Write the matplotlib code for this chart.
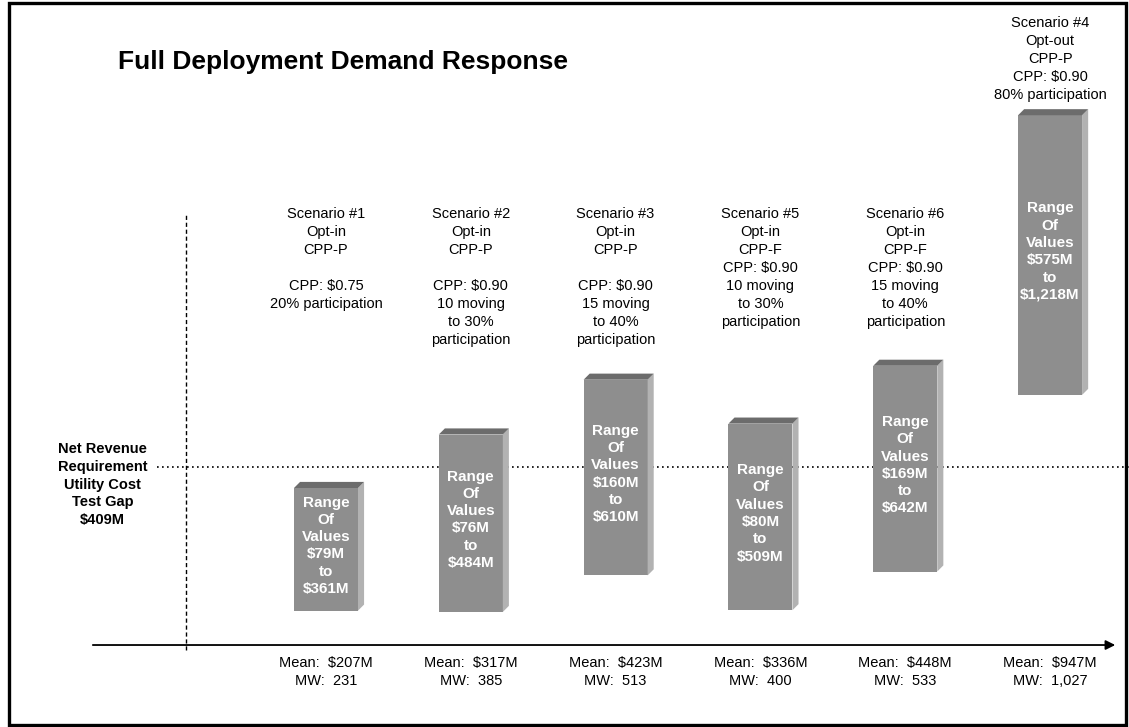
import matplotlib.pyplot as plt
from matplotlib.patches import Polygon, Rectangle

plt.rcParams['font.family'] = ['Liberation Sans', 'DejaVu Sans']

# Scenario data (in display order)
scenario_names = ['Scenario #1', 'Scenario #2', 'Scenario #3', 'Scenario #5', 'Scenario #6', 'Scenario #4']
scenario_desc = [
    'Opt-in\nCPP-P\n\nCPP: $0.75\n20% participation',
    'Opt-in\nCPP-P\n\nCPP: $0.90\n10 moving\nto 30%\nparticipation',
    'Opt-in\nCPP-P\n\nCPP: $0.90\n15 moving\nto 40%\nparticipation',
    'Opt-in\nCPP-F\nCPP: $0.90\n10 moving\nto 30%\nparticipation',
    'Opt-in\nCPP-F\nCPP: $0.90\n15 moving\nto 40%\nparticipation',
    'Opt-out\nCPP-P\nCPP: $0.90\n80% participation',
]
range_low = [79, 76, 160, 80, 169, 575]
range_high = [361, 484, 610, 509, 642, 1218]
mean_vals = [207, 317, 423, 336, 448, 947]
mw_vals = [231, 385, 513, 400, 533, 1027]
gap_value = 409

# Figure
fig = plt.figure(figsize=(11.29, 7.27), dpi=100)
ax = fig.add_axes([0, 0, 1, 1])
ax.set_xlim(-2.251, 5.545)
ax.set_ylim(-188.5, 1483)
ax.axis('off')

bar_w = 0.442
dx = 0.042
dy = 14
front_col = '#8e8e8e'
top_col = '#6c6c6c'
side_col = '#b2b2b2'

for i, (lo, hi) in enumerate(zip(range_low, range_high)):
    x0 = i - bar_w / 2
    x1 = i + bar_w / 2
    # front face
    ax.add_patch(Rectangle((x0, lo), bar_w, hi - lo, facecolor=front_col, edgecolor='none', zorder=3))
    # side face
    ax.add_patch(Polygon([(x1, lo), (x1 + dx, lo + dy), (x1 + dx, hi + dy), (x1, hi)],
                         closed=True, facecolor=side_col, edgecolor='none', zorder=3))
    # top face
    ax.add_patch(Polygon([(x0, hi), (x0 + dx, hi + dy), (x1 + dx, hi + dy), (x1, hi)],
                         closed=True, facecolor=top_col, edgecolor='none', zorder=3))
    label = 'Range\nOf\nValues\n${:,}M\nto\n${:,}M'.format(lo, hi)
    ax.text(i, (lo + hi) / 2 + 8, label, ha='center', va='center', color='white',
            fontsize=11, fontweight='bold', linespacing=1.3, zorder=4)

# Scenario descriptions above bars
xt = ax.get_xaxis_transform()
for i, (name, desc) in enumerate(zip(scenario_names, scenario_desc)):
    ytop = 1 - 16 / 727 if name == 'Scenario #4' else 1 - 207 / 727
    ax.text(i, ytop, name + '\n' + desc, transform=xt, ha='center', va='top',
            fontsize=10.5, linespacing=1.37, color='black')
    ax.text(i, 1 - 656 / 727, 'Mean:  ${:,}M\nMW:  {:,}'.format(mean_vals[i], mw_vals[i]),
            transform=xt, ha='center', va='top', fontsize=10.5, linespacing=1.37, color='black')

# Net revenue requirement gap line
ax.plot([-1.17, 5.545], [gap_value, gap_value], color='black', lw=1.2,
        linestyle=(0, (1, 2)), zorder=2)
ax.text(-1.542, gap_value - 40, 'Net Revenue\nRequirement\nUtility Cost\nTest Gap\n${}M'.format(gap_value),
        ha='center', va='center', fontsize=10.5, fontweight='bold', linespacing=1.35)

# Vertical dashed divider
ax.plot([-0.967, -0.967], [-12, 990], color='black', lw=1.0, linestyle=(0, (3, 2)), zorder=2)

# X axis with arrow
ax.annotate('', xy=(5.45, 0), xytext=(-1.61, 0),
            arrowprops=dict(arrowstyle='-|>', color='black', lw=1.3, mutation_scale=14,
                            shrinkA=0, shrinkB=0))

# Title
fig.text(118 / 1129, 1 - 62 / 727, 'Full Deployment Demand Response', ha='left', va='center',
         fontsize=19, fontweight='bold')

# Slide border
fig.patches.append(Rectangle((9 / 1129, 2 / 727), 1117 / 1129, 722 / 727, transform=fig.transFigure,
                             fill=False, edgecolor='black', lw=2.4))

fig.savefig('out.png', dpi=100)
